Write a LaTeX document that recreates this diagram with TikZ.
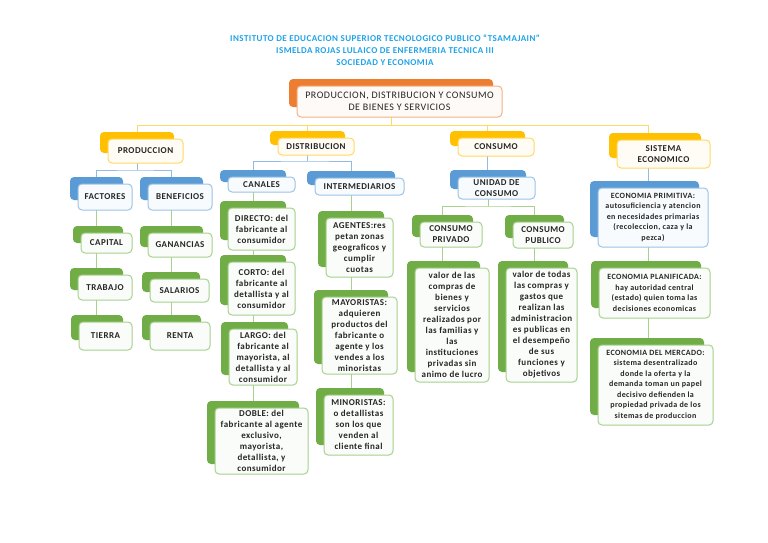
\documentclass[tikz,border=0pt]{standalone}
\usepackage{fontspec}
\setmainfont[LetterSpace=5]{Carlito}
\usetikzlibrary{calc}
\definecolor{cgold}{HTML}{FFC000}
\definecolor{cgoldL}{HTML}{FFD966}
\definecolor{corange}{HTML}{ED7D31}
\definecolor{corangeL}{HTML}{F4B183}
\definecolor{cblue}{HTML}{5B9BD5}
\definecolor{cblueL}{HTML}{9DC3E6}
\definecolor{cgreen}{HTML}{70AD47}
\definecolor{cgreenL}{HTML}{A9D18E}
\definecolor{ctitle}{HTML}{1FA3E8}
\pgfdeclarelayer{lines}
\pgfdeclarelayer{back}
\pgfsetlayers{lines,back,main}
\tikzset{
  front/.style={draw=#1L, fill=#1!4!white, line width=1pt, rounded corners=4pt,
    inner sep=1pt, align=center, text=black!85},
  backbox/.style={fill=#1, rounded corners=4pt, inner sep=0pt, draw=none},
  tx/.style={font=\fontsize{9}{11}\selectfont\bfseries},
  ts/.style={font=\fontsize{8}{10.5}\selectfont\bfseries},
  tt/.style={font=\fontsize{10}{11.5}\selectfont},
  yl/.style={draw=cgoldL, line width=1pt},
  bl/.style={draw=cblueL!80!cblue, line width=1pt},
  gl/.style={draw=cgreenL, line width=1pt},
}
% name, colour, x1, y1, x2, y2, text style, text
\newcommand\cbx[8]{%
  \node[front=#2, #7, minimum width={#5-#3}, minimum height={#6-#4}] (#1)
    at ({(#3+#5)/2},{(#4+#6)/2}) {#8};
  \begin{pgfonlayer}{back}
    \node[backbox=#2, minimum width={#5-#3-1}, minimum height={#6-#4-3}] (#1b)
      at ({(#3+#5)/2-8.5},{(#4+#6)/2-8.5}) {};
  \end{pgfonlayer}}
\begin{document}
\begin{tikzpicture}[x=1pt,y=-1pt]
\useasboundingbox (0,0) rectangle (768,543);
\begin{pgfonlayer}{lines}
  \fill[white] (0,0) rectangle (768,543);
\end{pgfonlayer}

\node[align=center, text=ctitle, font=\fontsize{9}{12}\selectfont\bfseries] (title) at (385,50)
  {INSTITUTO DE EDUCACION SUPERIOR TECNOLOGICO PUBLICO “TSAMAJAIN”\\
   ISMELDA ROJAS LULAICO DE ENFERMERIA TECNICA III\\
   SOCIEDAD Y ECONOMIA};

\cbx{top}{corange}{297}{86}{502}{117}{tt}{PRODUCCION, DISTRIBUCION Y CONSUMO\\DE BIENES Y SERVICIOS}

\cbx{prod}{cgold}{108}{139}{183}{163}{tx}{PRODUCCION}
\cbx{dist}{cgold}{278}{138}{354}{155}{tx}{DISTRIBUCION}
\cbx{cons}{cgold}{458}{138}{534}{156}{tx}{CONSUMO}
\cbx{sist}{cgold}{617}{140}{710}{168}{tx}{SISTEMA\\ECONOMICO}

\cbx{fact}{cblue}{78}{184}{132}{210}{tx}{FACTORES}
\cbx{bene}{cblue}{148}{184}{212}{210}{tx}{BENEFICIOS}
\cbx{capi}{cgreen}{81}{233}{132}{253}{tx}{CAPITAL}
\cbx{trab}{cgreen}{78}{275}{132}{300}{tx}{TRABAJO}
\cbx{tier}{cgreen}{79}{322}{132}{350}{tx}{TIERRA}
\cbx{gana}{cgreen}{148}{233}{212}{257}{tx}{GANANCIAS}
\cbx{sala}{cgreen}{150}{279}{209}{302}{tx}{SALARIOS}
\cbx{rent}{cgreen}{150}{322}{210}{350}{tx}{RENTA}

\cbx{cana}{cblue}{228}{177}{295}{192}{tx}{CANALES}
\cbx{inte}{cblue}{315}{178}{404}{195}{tx}{INTERMEDIARIOS}
\cbx{dire}{cgreen}{228}{208}{295}{250}{tx}{DIRECTO: del\\fabricante al\\consumidor}
\cbx{cort}{cgreen}{228}{262}{295}{315}{tx}{CORTO: del\\fabricante al\\detallista y al\\consumidor}
\cbx{larg}{cgreen}{229}{329}{297}{385}{tx}{LARGO: del\\fabricante al\\mayorista, al\\detallista y al\\consumidor}
\cbx{dobl}{cgreen}{215}{408}{308}{474}{tx}{DOBLE: del\\fabricante al agente\\exclusivo,\\mayorista,\\detallista, y\\consumidor}
\cbx{agen}{cgreen}{326}{218}{393}{277}{tx}{AGENTES:res\\petan zonas\\geograficos y\\cumplir\\cuotas}
\cbx{mayo}{cgreen}{322}{297}{397}{374}{tx}{MAYORISTAS:\\adquieren\\productos del\\fabricante o\\agente y los\\vendes a los\\minoristas}
\cbx{mino}{cgreen}{324}{395}{393}{455}{tx}{MINORISTAS:\\o detallistas\\son los que\\venden al\\cliente final}

\cbx{unid}{cblue}{458}{177}{535}{199}{tx}{UNIDAD DE\\CONSUMO}
\cbx{priv}{cgreen}{420}{222}{482}{247}{tx}{CONSUMO\\PRIVADO}
\cbx{publ}{cgreen}{513}{222}{573}{248}{tx}{CONSUMO\\PUBLICO}
\cbx{vpri}{cgreen}{415}{268}{489}{382}{tx}{valor de las\\compras de\\bienes y\\servicios\\realizados por\\las familias y\\las\\instituciones\\privadas sin\\animo de lucro}
\cbx{vpub}{cgreen}{506}{268}{577}{382}{tx}{valor de todas\\las compras y\\gastos que\\realizan las\\administracion\\es publicas en\\el desempeño\\de sus\\funciones y\\objetivos}

\cbx{prim}{cblue}{598}{188}{708}{247}{ts}{ECONOMIA PRIMITIVA:\\autosuficiencia y atencion\\en necesidades primarias\\(recoleccion, caza y la\\pezca)}
\cbx{plan}{cgreen}{599}{268}{710}{318}{ts}{ECONOMIA PLANIFICADA:\\hay autoridad central\\(estado) quien toma las\\decisiones economicas}
\cbx{merc}{cgreen}{598}{345}{713}{425}{ts}{ECONOMIA DEL MERCADO:\\sistema desentralizado\\donde la oferta y la\\demanda toman un papel\\decisivo defienden la\\propiedad privada de los\\sitemas de produccion}

\begin{pgfonlayer}{lines}
  \coordinate (h1) at (391,125);
  \coordinate (s1) at (648,150);
  \draw[yl] (topb.center) -- (h1);
  \draw[yl] (prodb.center) |- (h1);
  \draw[yl] (h1) -| (distb.center);
  \draw[yl] (h1) -| (consb.center);
  \draw[yl] (h1) -| (s1);
  % produccion
  \coordinate (h2) at (137,170);
  \draw[bl] (prodb.center) -- (h2);
  \draw[bl] (factb.center) |- (h2) -| (beneb.center);
  \draw[gl] (factb.center) -- (factb.center |- tierb.center);
  \draw[gl] (beneb.center) -- (beneb.center |- rentb.center);
  % distribucion
  \coordinate (h3) at (307.5,161);
  \draw[bl] (distb.center) -- (h3);
  \draw[bl] (canab.center) |- (h3) -| (inteb.center);
  \draw[gl] (canab.center) -- (canab.center |- doblb.center);
  \draw[gl] (inteb.center) -- (inteb.center |- minob.center);
  % consumo
  \draw[bl] (consb.center) -- (consb.center |- unidb.center);
  \coordinate (h4) at (488,206);
  \draw[gl] (unidb.center) -- (h4);
  \draw[gl] (privb.center) |- (h4) -| (publb.center);
  \draw[gl] (privb.center) -- (privb.center |- vprib.center);
  \draw[gl] (publb.center) -- (publb.center |- vpubb.center);
  % sistema economico
  \draw[bl] (s1) -- (s1 |- primb.center);
  \draw[gl] (s1 |- primb.center) -- (s1 |- mercb.center);
\end{pgfonlayer}
\end{tikzpicture}
\end{document}
